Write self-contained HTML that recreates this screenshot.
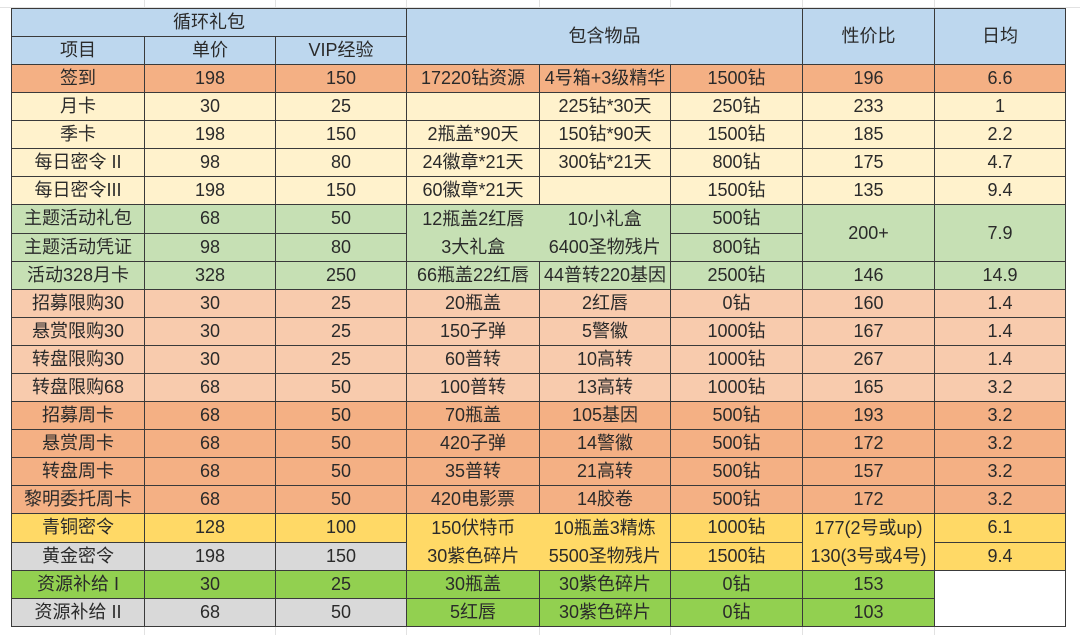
<!DOCTYPE html>
<html><head><meta charset="utf-8"><style>
body{margin:0;width:1080px;height:635px;background:#fff;overflow:hidden;position:relative;font-family:"Liberation Sans","Noto Sans CJK SC",sans-serif;}
.g{position:absolute;background:#e2e2e2;}
table{position:absolute;left:11px;top:8px;border-collapse:collapse;table-layout:fixed;}
td{border:1px solid #3a3a3a;height:26.75px;padding:0;text-align:center;font-size:18px;color:#2a2a2a;line-height:27px;white-space:nowrap;overflow:hidden;}
.h{background:#bdd7ee}.o{background:#f4b084}.y{background:#fff2cc}.gr{background:#c6e0b4}.p{background:#f8cbad}.yl{background:#ffd966}.gy{background:#d9d9d9}.lg{background:#92d050}.w{background:#fff}
.nr{border-right:none}.nl{border-left:none}
</style></head><body>
<div class="g" style="left:144px;top:0;width:1px;height:635px"></div>
<div class="g" style="left:275px;top:0;width:1px;height:635px"></div>
<div class="g" style="left:406px;top:0;width:1px;height:635px"></div>
<div class="g" style="left:539px;top:0;width:1px;height:635px"></div>
<div class="g" style="left:670px;top:0;width:1px;height:635px"></div>
<div class="g" style="left:802px;top:0;width:1px;height:635px"></div>
<div class="g" style="left:934px;top:0;width:1px;height:635px"></div>
<div class="g" style="left:0;top:7px;width:1080px;height:1px"></div>
<table>
<colgroup><col style="width:133px"><col style="width:131px"><col style="width:131px"><col style="width:133px"><col style="width:131px"><col style="width:132px"><col style="width:132px"><col style="width:131px"></colgroup>
<tr class="h"><td colspan="3">循环礼包</td><td colspan="3" rowspan="2">包含物品</td><td rowspan="2">性价比</td><td rowspan="2">日均</td></tr>
<tr class="h"><td>项目</td><td>单价</td><td>VIP经验</td></tr>
<tr class="o"><td>签到</td><td>198</td><td>150</td><td>17220钻资源</td><td>4号箱+3级精华</td><td>1500钻</td><td>196</td><td>6.6</td></tr>
<tr class="y"><td>月卡</td><td>30</td><td>25</td><td></td><td>225钻*30天</td><td>250钻</td><td>233</td><td>1</td></tr>
<tr class="y"><td>季卡</td><td>198</td><td>150</td><td>2瓶盖*90天</td><td>150钻*90天</td><td>1500钻</td><td>185</td><td>2.2</td></tr>
<tr class="y"><td>每日密令 II</td><td>98</td><td>80</td><td>24徽章*21天</td><td>300钻*21天</td><td>800钻</td><td>175</td><td>4.7</td></tr>
<tr class="y"><td>每日密令III</td><td>198</td><td>150</td><td>60徽章*21天</td><td></td><td>1500钻</td><td>135</td><td>9.4</td></tr>
<tr class="gr"><td>主题活动礼包</td><td>68</td><td>50</td><td rowspan="2" class="nr" style="line-height:28px">12瓶盖2红唇<br>3大礼盒</td><td rowspan="2" class="nl" style="line-height:28px">10小礼盒<br>6400圣物残片</td><td>500钻</td><td rowspan="2">200+</td><td rowspan="2">7.9</td></tr>
<tr class="gr"><td>主题活动凭证</td><td>98</td><td>80</td><td>800钻</td></tr>
<tr class="gr"><td>活动328月卡</td><td>328</td><td>250</td><td>66瓶盖22红唇</td><td>44普转220基因</td><td>2500钻</td><td>146</td><td>14.9</td></tr>
<tr class="p"><td>招募限购30</td><td>30</td><td>25</td><td>20瓶盖</td><td>2红唇</td><td>0钻</td><td>160</td><td>1.4</td></tr>
<tr class="p"><td>悬赏限购30</td><td>30</td><td>25</td><td>150子弹</td><td>5警徽</td><td>1000钻</td><td>167</td><td>1.4</td></tr>
<tr class="p"><td>转盘限购30</td><td>30</td><td>25</td><td>60普转</td><td>10高转</td><td>1000钻</td><td>267</td><td>1.4</td></tr>
<tr class="p"><td>转盘限购68</td><td>68</td><td>50</td><td>100普转</td><td>13高转</td><td>1000钻</td><td>165</td><td>3.2</td></tr>
<tr class="o"><td>招募周卡</td><td>68</td><td>50</td><td>70瓶盖</td><td>105基因</td><td>500钻</td><td>193</td><td>3.2</td></tr>
<tr class="o"><td>悬赏周卡</td><td>68</td><td>50</td><td>420子弹</td><td>14警徽</td><td>500钻</td><td>172</td><td>3.2</td></tr>
<tr class="o"><td>转盘周卡</td><td>68</td><td>50</td><td>35普转</td><td>21高转</td><td>500钻</td><td>157</td><td>3.2</td></tr>
<tr class="o"><td>黎明委托周卡</td><td>68</td><td>50</td><td>420电影票</td><td>14胶卷</td><td>500钻</td><td>172</td><td>3.2</td></tr>
<tr class="yl"><td>青铜密令</td><td>128</td><td>100</td><td rowspan="2" class="nr" style="line-height:28px">150伏特币<br>30紫色碎片</td><td rowspan="2" class="nl" style="line-height:28px">10瓶盖3精炼<br>5500圣物残片</td><td>1000钻</td><td rowspan="2" style="line-height:28px">177(2号或up)<br>130(3号或4号)</td><td>6.1</td></tr>
<tr><td class="gy">黄金密令</td><td class="gy">198</td><td class="gy">150</td><td class="yl">1500钻</td><td class="yl">9.4</td></tr>
<tr class="lg"><td>资源补给 I</td><td>30</td><td>25</td><td>30瓶盖</td><td>30紫色碎片</td><td>0钻</td><td>153</td><td rowspan="2" class="w"></td></tr>
<tr class="lg"><td class="gy">资源补给 II</td><td class="gy">68</td><td class="gy">50</td><td>5红唇</td><td>30紫色碎片</td><td>0钻</td><td>103</td></tr>
</table>
</body></html>
